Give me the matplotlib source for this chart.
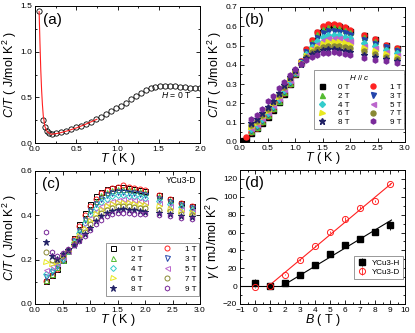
import numpy as np
import matplotlib.pyplot as plt
from matplotlib.ticker import MultipleLocator

plt.rcParams['font.family'] = ['Liberation Sans', 'DejaVu Sans']
plt.rcParams['mathtext.fontset'] = 'custom'
plt.rcParams['mathtext.it'] = 'Liberation Sans:italic'
plt.rcParams['mathtext.rm'] = 'Liberation Sans'

# (a) zero field C/T
ta = [0.05, 0.1, 0.12, 0.14, 0.17, 0.2, 0.26, 0.32, 0.38, 0.44, 0.5, 0.56,
      0.62, 0.68, 0.74, 0.8, 0.86, 0.92, 0.98, 1.04, 1.1, 1.16, 1.22, 1.28,
      1.34, 1.4, 1.46, 1.52, 1.58, 1.64, 1.7, 1.76, 1.82, 1.88, 1.94, 2.0]
ca = [1.44, 0.25, 0.17, 0.13, 0.105, 0.095, 0.105, 0.12, 0.135, 0.15, 0.17,
      0.19, 0.21, 0.235, 0.26, 0.29, 0.32, 0.35, 0.38, 0.41, 0.44, 0.48,
      0.515, 0.55, 0.58, 0.6, 0.615, 0.625, 0.625, 0.625, 0.62, 0.615, 0.61,
      0.605, 0.6, 0.6]
ta_fit = [0.05, 0.06, 0.07, 0.08, 0.09, 0.1, 0.12, 0.15, 0.2, 0.3, 0.4, 0.5,
          0.6, 0.75]
ca_fit = [1.44, 1.1, 0.8, 0.58, 0.42, 0.3, 0.18, 0.12, 0.095, 0.11, 0.135,
          0.165, 0.2, 0.26]

fields = ['0 T', '1 T', '2 T', '3 T', '4 T', '5 T', '6 T', '7 T', '8 T', '9 T']
colors = ['#000000', '#ff2222', '#55bb33', '#2244aa', '#33cccc', '#bb66cc',
          '#e8e820', '#888833', '#222266', '#7a2a9a']
markers = ['s', 'o', '^', 'v', 'D', '<', '>', 'o', '*', 'h']
t_sparse = [2.25, 2.45, 2.65, 2.85]

# (b) YCu3-H, rows = temperature, columns = 0..9 T
nan = np.nan
tb = [0.05, 0.1, 0.2, 0.3, 0.4, 0.5, 0.6, 0.7, 0.8, 0.9, 1.0, 1.1, 1.2, 1.3,
      1.4, 1.5, 1.6, 1.7, 1.8, 1.9, 2.0]
cb = [
    [0.01, nan, nan, nan, nan, nan, nan, nan, nan, nan],
    [0.02, 0.025, nan, nan, nan, nan, nan, nan, nan, nan],
    [0.045, 0.05, 0.055, 0.06, 0.065, 0.07, 0.08, 0.09, 0.10, 0.12],
    [0.07, 0.075, 0.08, 0.085, 0.09, 0.095, 0.1, 0.11, 0.12, 0.14],
    [0.1, 0.105, 0.11, 0.115, 0.12, 0.125, 0.13, 0.14, 0.15, 0.17],
    [0.13, 0.135, 0.14, 0.145, 0.15, 0.155, 0.16, 0.17, 0.18, 0.21],
    [0.165, 0.17, 0.175, 0.18, 0.185, 0.19, 0.195, 0.205, 0.215, 0.24],
    [0.205, 0.21, 0.215, 0.22, 0.225, 0.23, 0.235, 0.245, 0.255, 0.28],
    [0.25, 0.255, 0.26, 0.265, 0.27, 0.275, 0.28, 0.285, 0.295, 0.31],
    [0.3, 0.3, 0.305, 0.31, 0.315, 0.32, 0.325, 0.33, 0.335, 0.345],
    [0.355, 0.355, 0.36, 0.36, 0.365, 0.365, 0.37, 0.37, 0.375, 0.38],
    [0.42, 0.42, 0.415, 0.415, 0.41, 0.41, 0.41, 0.405, 0.405, 0.405],
    [0.48, 0.48, 0.47, 0.465, 0.455, 0.45, 0.445, 0.44, 0.435, 0.425],
    [0.53, 0.53, 0.52, 0.505, 0.495, 0.485, 0.475, 0.465, 0.455, 0.44],
    [0.57, 0.57, 0.56, 0.54, 0.525, 0.51, 0.495, 0.48, 0.468, 0.452],
    [0.595, 0.6, 0.585, 0.565, 0.545, 0.53, 0.51, 0.492, 0.476, 0.46],
    [0.605, 0.61, 0.595, 0.575, 0.555, 0.538, 0.518, 0.498, 0.48, 0.464],
    [0.605, 0.61, 0.595, 0.575, 0.556, 0.54, 0.52, 0.5, 0.481, 0.465],
    [0.6, 0.605, 0.59, 0.572, 0.553, 0.537, 0.517, 0.497, 0.478, 0.462],
    [0.59, 0.595, 0.582, 0.565, 0.547, 0.531, 0.512, 0.493, 0.474, 0.458],
    [0.578, 0.58, 0.57, 0.555, 0.538, 0.523, 0.505, 0.487, 0.468, 0.452],
]
cb_sparse = [
    [0.555, 0.555, 0.545, 0.53, 0.515, 0.5, 0.485, 0.47, 0.45, 0.435],
    [0.535, 0.535, 0.525, 0.51, 0.497, 0.485, 0.47, 0.455, 0.44, 0.425],
    [0.505, 0.505, 0.5, 0.49, 0.478, 0.467, 0.455, 0.443, 0.43, 0.418],
    [0.485, 0.485, 0.48, 0.472, 0.462, 0.452, 0.442, 0.432, 0.42, 0.41],
]

# (c) YCu3-D
tc = [0.2, 0.3, 0.4, 0.5, 0.6, 0.7, 0.8, 0.9, 1.0, 1.1, 1.2, 1.3, 1.4, 1.5,
      1.6, 1.7, 1.8, 1.9, 2.0]
cc = [
    [0.105, 0.105, 0.11, 0.12, 0.135, 0.155, 0.19, 0.235, 0.28, 0.325],
    [0.13, 0.13, 0.135, 0.145, 0.155, 0.17, 0.18, 0.2, 0.215, 0.235],
    [0.16, 0.16, 0.165, 0.17, 0.175, 0.185, 0.19, 0.2, 0.205, 0.215],
    [0.2, 0.2, 0.2, 0.2, 0.205, 0.21, 0.215, 0.22, 0.225, 0.23],
    [0.245, 0.245, 0.24, 0.24, 0.24, 0.24, 0.24, 0.245, 0.245, 0.25],
    [0.3, 0.295, 0.29, 0.285, 0.28, 0.275, 0.27, 0.27, 0.268, 0.265],
    [0.36, 0.35, 0.34, 0.33, 0.32, 0.31, 0.305, 0.295, 0.29, 0.285],
    [0.41, 0.4, 0.39, 0.38, 0.365, 0.35, 0.34, 0.325, 0.315, 0.305],
    [0.45, 0.44, 0.43, 0.42, 0.405, 0.39, 0.375, 0.36, 0.345, 0.335],
    [0.485, 0.475, 0.465, 0.45, 0.435, 0.42, 0.405, 0.39, 0.375, 0.36],
    [0.505, 0.5, 0.49, 0.475, 0.46, 0.44, 0.425, 0.41, 0.395, 0.38],
    [0.52, 0.515, 0.505, 0.49, 0.475, 0.455, 0.44, 0.425, 0.41, 0.395],
    [0.525, 0.525, 0.515, 0.5, 0.485, 0.465, 0.45, 0.435, 0.42, 0.405],
    [0.53, 0.53, 0.52, 0.505, 0.49, 0.47, 0.455, 0.44, 0.425, 0.41],
    [0.53, 0.535, 0.52, 0.505, 0.49, 0.472, 0.457, 0.442, 0.427, 0.412],
    [0.525, 0.53, 0.518, 0.503, 0.488, 0.47, 0.455, 0.44, 0.425, 0.41],
    [0.52, 0.525, 0.515, 0.5, 0.485, 0.468, 0.453, 0.438, 0.423, 0.408],
    [0.515, 0.52, 0.51, 0.497, 0.482, 0.465, 0.45, 0.435, 0.42, 0.406],
    [0.51, 0.515, 0.505, 0.493, 0.478, 0.462, 0.447, 0.432, 0.417, 0.404],
]
cc_sparse = [
    [0.49, 0.49, 0.485, 0.475, 0.465, 0.455, 0.44, 0.425, 0.41, 0.4],
    [0.475, 0.475, 0.47, 0.46, 0.452, 0.442, 0.43, 0.418, 0.405, 0.395],
    [0.455, 0.455, 0.45, 0.445, 0.437, 0.428, 0.418, 0.408, 0.398, 0.39],
    [0.44, 0.44, 0.437, 0.432, 0.425, 0.418, 0.41, 0.4, 0.392, 0.385],
]

# (d) gamma vs field
bd = [0, 1, 2, 3, 4, 5, 6, 7, 8, 9]
gam_h = [4, 0, 3, 13, 24, 36, 46, 53, 61, 68]
gam_h_err = [4, 1, 1, 1, 1, 1, 1, 1, 1, 5]
gam_d = [-1.5, 0, 13, 29, 45, 61, 75, 88, 95, 114]
gam_d_err = [1, 1, 1, 1, 1, 1, 2, 2, 1, 1]
fit_b_h = [1.8, 9.1]
fit_h = [0, 74]
fit_b_d = [0.9, 9.1]
fit_d = [0, 115]

W, H = 415, 333
fig = plt.figure(figsize=(W / 100, H / 100), dpi=100)


def rect(x0, y0, x1, y1):
    return [x0 / W, 1 - y1 / H, (x1 - x0) / W, (y1 - y0) / H]


ax_a = fig.add_axes(rect(35, 6, 200, 143))
ax_b = fig.add_axes(rect(240, 7, 405, 142))
ax_c = fig.add_axes(rect(35, 171, 200, 304))
ax_d = fig.add_axes(rect(240, 170, 405, 304))

ylab = r'$C/T$ ( J/mol K$^2$ )'
tlab = r'$T$ ( K )'
LAB = 9
TICK = 6
LEG = 5.8


def style(ax, xmaj, xmin, ymaj, ymin):
    ax.xaxis.set_major_locator(MultipleLocator(xmaj))
    ax.xaxis.set_minor_locator(MultipleLocator(xmin))
    ax.yaxis.set_major_locator(MultipleLocator(ymaj))
    ax.yaxis.set_minor_locator(MultipleLocator(ymin))
    ax.tick_params(which='both', direction='in', top=True, right=True,
                   labelsize=TICK, width=0.6, pad=2)
    ax.tick_params(which='major', length=3)
    ax.tick_params(which='minor', length=1.6)
    for s in ax.spines.values():
        s.set_linewidth(0.7)


def legend_kw(spacing=0.12, textpad=1.4):
    return dict(frameon=True, fancybox=False, edgecolor='#888888',
                framealpha=1, handletextpad=textpad, labelspacing=spacing,
                borderpad=0.35, handlelength=1.2, borderaxespad=0)


# (a)
ax_a.plot(ta, ca, 'o', ms=3.8, mfc='none', mec='k', mew=0.6)
ax_a.plot(ta_fit, ca_fit, '-', color='#ff2020', lw=0.8)
ax_a.set_xlim(0, 2.0)
ax_a.set_ylim(0, 1.5)
style(ax_a, 0.5, 0.25, 0.5, 0.25)
ax_a.set_xlabel(tlab, fontsize=LAB, labelpad=-1)
ax_a.set_ylabel(ylab, fontsize=LAB, labelpad=1)
ax_a.text(0.05, 0.9, '(a)', transform=ax_a.transAxes, fontsize=11, va='center')
ax_a.text(0.95, 0.35, r'$H$ = 0 T', transform=ax_a.transAxes, fontsize=6.2,
          ha='right', va='center')

# (b)
cb = np.array(cb)
cb_sparse = np.array(cb_sparse)
tb_all = list(tb) + t_sparse
hb = []
for i in range(10):
    y = list(cb[:, i]) + list(cb_sparse[:, i])
    ms = 3.6 if markers[i] != '*' else 4.6
    if markers[i] == 'D':
        ms = 3.0
    h, = ax_b.plot(tb_all, y, markers[i], ls='none', ms=ms, color=colors[i],
                   mec=colors[i], label=fields[i])
    hb.append(h)
ax_b.set_xlim(0, 3.0)
ax_b.set_ylim(0, 0.7)
style(ax_b, 0.5, 0.25, 0.1, 0.05)
ax_b.set_xlabel(tlab, fontsize=LAB, labelpad=-1)
ax_b.set_ylabel(ylab, fontsize=LAB, labelpad=1)
ax_b.text(0.03, 0.9, '(b)', transform=ax_b.transAxes, fontsize=11, va='center')
order = [0, 2, 4, 6, 8, 1, 3, 5, 7, 9]
leg = ax_b.legend([hb[k] for k in order], [fields[k] for k in order], ncol=2,
                  title=r'$H$ // $c$', title_fontsize=LEG, fontsize=LEG,
                  loc='lower right', bbox_to_anchor=(0.994, 0.096),
                  columnspacing=2.2, **legend_kw(0.15, 1.5))
leg.get_frame().set_linewidth(0.6)

# (c)
cc = np.array(cc)
cc_sparse = np.array(cc_sparse)
tc_all = list(tc) + t_sparse
hc = []
for i in range(10):
    y = list(cc[:, i]) + list(cc_sparse[:, i])
    ms = 3.6 if markers[i] != '*' else 4.6
    if markers[i] == 'D':
        ms = 3.0
    mfc = 'none' if markers[i] != '*' else colors[i]
    h, = ax_c.plot(tc_all, y, markers[i], ls='none', ms=ms, mfc=mfc,
                   mec=colors[i], mew=0.7, label=fields[i])
    hc.append(h)
ax_c.set_xlim(0, 3.0)
ax_c.set_ylim(0, 0.6)
style(ax_c, 0.5, 0.25, 0.2, 0.1)
ax_c.set_xlabel(tlab, fontsize=LAB, labelpad=-1)
ax_c.set_ylabel(ylab, fontsize=LAB, labelpad=1)
ax_c.text(0.04, 0.9, '(c)', transform=ax_c.transAxes, fontsize=11, va='center')
ax_c.text(0.98, 0.93, 'YCu3-D', transform=ax_c.transAxes, fontsize=6.2,
          ha='right', va='center')
leg = ax_c.legend([hc[k] for k in order], [fields[k] for k in order], ncol=2,
                  fontsize=LEG, loc='lower right', bbox_to_anchor=(0.994, 0.06),
                  columnspacing=2.4, **legend_kw(0.3, 1.6))
leg.get_frame().set_linewidth(0.6)

# (d)
ax_d.axhline(0, color='k', lw=0.8)
ax_d.plot(fit_b_h, fit_h, '-', color='k', lw=0.8)
ax_d.plot(fit_b_d, fit_d, '-', color='#ff2020', lw=0.8)
ax_d.errorbar(bd, gam_h, yerr=gam_h_err, fmt='s', ms=4, color='k',
              elinewidth=0.6, capsize=0, label='YCu3-H')
ax_d.errorbar(bd, gam_d, yerr=gam_d_err, fmt='o', ms=4.4, mfc='none',
              mec='#ff2020', mew=0.7, ecolor='#ff2020', elinewidth=0.6,
              capsize=0, label='YCu3-D')
ax_d.set_xlim(-1, 10)
ax_d.set_ylim(-20, 130)
style(ax_d, 1, 0.5, 20, 10)
ax_d.set_xlabel(r'$B$ ( T )', fontsize=LAB, labelpad=-1)
ax_d.set_ylabel(r'$\gamma$ ( mJ/mol K$^2$ )', fontsize=LAB, labelpad=1)
ax_d.text(0.03, 0.9, '(d)', transform=ax_d.transAxes, fontsize=11, va='center')
leg = ax_d.legend(fontsize=LEG, loc='lower right',
                  bbox_to_anchor=(0.985, 0.19), **legend_kw(0.15, 0.6))
leg.get_frame().set_linewidth(0.6)

fig.savefig('out.png', dpi=100)
